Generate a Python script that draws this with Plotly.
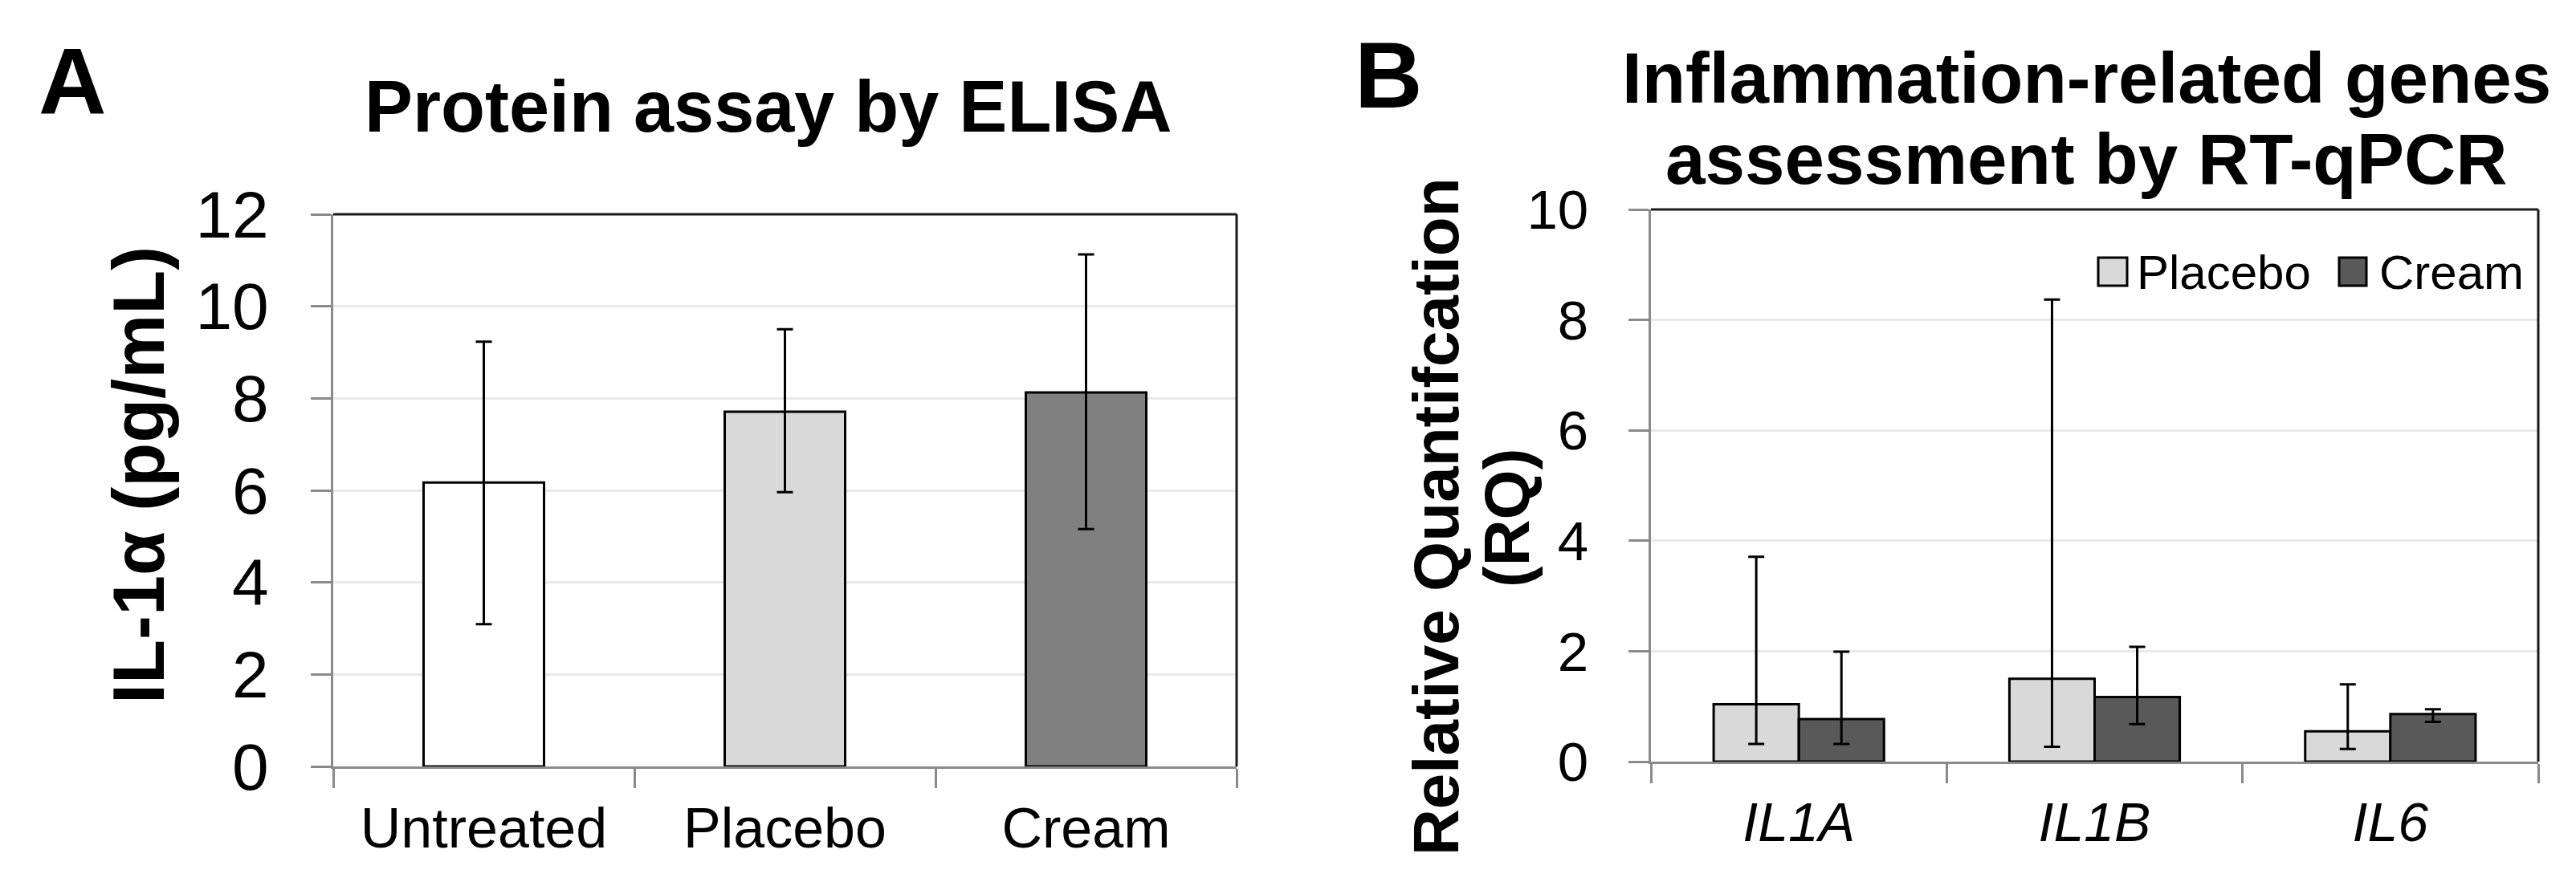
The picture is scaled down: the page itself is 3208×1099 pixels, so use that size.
import plotly.graph_objects as go

# ---------------- data ----------------
groups_a = ["Untreated", "Placebo", "Cream"]
means_a = [6.17, 7.71, 8.13]
err_hi_a = [9.23, 9.50, 11.13]
err_lo_a = [3.09, 5.96, 5.16]
colors_a = ["#ffffff", "#d9d9d9", "#808080"]

genes_b = ["IL1A", "IL1B", "IL6"]
series_b = ["Placebo", "Cream"]
placebo_b = [1.04, 1.50, 0.55]
placebo_hi_b = [3.71, 8.37, 1.40]
placebo_lo_b = [0.32, 0.27, 0.23]
cream_b = [0.77, 1.17, 0.86]
cream_hi_b = [1.99, 2.08, 0.95]
cream_lo_b = [0.32, 0.68, 0.72]
colors_b = ["#d9d9d9", "#595959"]

yticks_a = [0, 2, 4, 6, 8, 10, 12]
yticks_b = [0, 2, 4, 6, 8, 10]

FONT = "Liberation Sans, Arial, sans-serif"
W, H = 3208, 1099

def px(x):
    return x / W

def py(y):
    return 1 - y / H

fig = go.Figure()

fig.add_trace(go.Bar(
    x=groups_a, y=means_a, xaxis="x", yaxis="y", width=0.4,
    marker=dict(color=colors_a, line=dict(color="#000000", width=3)),
    error_y=dict(type="data", symmetric=False,
                 array=[h - m for h, m in zip(err_hi_a, means_a)],
                 arrayminus=[m - l for l, m in zip(err_lo_a, means_a)],
                 color="#000000", thickness=3, width=10),
    showlegend=False,
))

for name, vals, hi, lo, col in [
    (series_b[0], placebo_b, placebo_hi_b, placebo_lo_b, colors_b[0]),
    (series_b[1], cream_b, cream_hi_b, cream_lo_b, colors_b[1]),
]:
    fig.add_trace(go.Bar(
        name=name, x=genes_b, y=vals, xaxis="x2", yaxis="y2",
        marker=dict(color=col, line=dict(color="#000000", width=3)),
        error_y=dict(type="data", symmetric=False,
                     array=[h - v for h, v in zip(hi, vals)],
                     arrayminus=[v - l for l, v in zip(lo, vals)],
                     color="#000000", thickness=3, width=10),
        showlegend=False,
    ))

GRID = "#e9e9e9"
AXC = "#8a8a8a"

common_x = dict(showgrid=False, showline=True, linecolor=AXC, linewidth=3,
                ticks="outside", tickson="boundaries", ticklen=24, tickwidth=3,
                tickcolor=AXC, zeroline=False, ticklabelstandoff=14,
                automargin=False)
common_y = dict(showgrid=True, gridcolor=GRID, gridwidth=3, showline=True,
                linecolor=AXC, linewidth=3, ticks="outside", ticklen=25,
                tickwidth=3, tickcolor=AXC, zeroline=False, automargin=False)

fig.update_layout(
    width=W, height=H,
    margin=dict(l=0, r=0, t=0, b=0, pad=0, autoexpand=False),
    paper_bgcolor="#ffffff", plot_bgcolor="#ffffff",
    font=dict(family=FONT, color="#000000"),
    barmode="group", bargap=0.424, bargroupgap=0,
    showlegend=False,
    xaxis=dict(domain=[px(407), px(1532)], anchor="y",
               tickfont=dict(size=70, family=FONT), **common_x),
    yaxis=dict(domain=[py(947), py(259)], anchor="x", range=[0, 12],
               tickvals=yticks_a, tickfont=dict(size=82, family=FONT),
               ticklabelstandoff=36, **common_y),
    xaxis2=dict(domain=[px(2048), px(3153)], anchor="y2",
                tickvals=genes_b, ticktext=["<i>%s</i>" % g for g in genes_b],
                tickfont=dict(size=68, family=FONT), **common_x),
    yaxis2=dict(domain=[py(941), py(253)], anchor="x2", range=[0, 10],
                tickvals=yticks_b, tickfont=dict(size=69, family=FONT),
                ticklabelstandoff=36, **common_y),
)

# top/right black frame lines
for xr, yr in [("x domain", "y domain"), ("x2 domain", "y2 domain")]:
    fig.add_shape(type="line", xref=xr, yref=yr, x0=0, x1=1, y0=1, y1=1,
                  line=dict(color="#1a1a1a", width=3))
    fig.add_shape(type="line", xref=xr, yref=yr, x0=1, x1=1, y0=0, y1=1,
                  line=dict(color="#1a1a1a", width=3))

# legend for panel B (drawn manually to get large swatches)
legend_items = [(series_b[0], colors_b[0], 2605, 2641, 2651),
                (series_b[1], colors_b[1], 2905, 2939, 2953)]
for name, col, x0, x1, xt in legend_items:
    fig.add_shape(type="rect", xref="paper", yref="paper",
                  x0=px(x0), x1=px(x1), y0=py(348), y1=py(313),
                  fillcolor=col, line=dict(color="#000000", width=3))
    fig.add_annotation(text=name, xref="paper", yref="paper", x=px(xt), y=py(331),
                       xanchor="left", yanchor="middle", showarrow=False,
                       font=dict(size=60, family=FONT, color="#000000"))

# titles and panel letters
ann = [
    dict(text="<b>A</b>", x=px(82), y=py(94), size=117),
    dict(text="<b>B</b>", x=px(1721), y=py(85), size=117),
    dict(text="<b>Protein assay by ELISA</b>", x=px(948), y=py(125), size=90),
    dict(text="<b>Inflammation-related genes</b>", x=px(2590), y=py(89), size=89),
    dict(text="<b>assessment by RT-qPCR</b>", x=px(2590), y=py(190), size=89),
]
for a in ann:
    fig.add_annotation(text=a["text"], xref="paper", yref="paper", x=a["x"], y=a["y"],
                       xanchor="center", yanchor="middle", showarrow=False,
                       font=dict(size=a["size"], family=FONT, color="#000000"))

# y-axis titles (rotated)
yt = [
    dict(text="<b>IL-1α (pg/mL)</b>", x=px(165), y=py(584), size=90),
    dict(text="<b>Relative Quantifcation</b>", x=px(1780), y=py(636), size=80),
    dict(text="<b>(RQ)</b>", x=px(1868), y=py(638), size=80),
]
for a in yt:
    fig.add_annotation(text=a["text"], xref="paper", yref="paper", x=a["x"], y=a["y"],
                       xanchor="center", yanchor="middle", showarrow=False, textangle=-90,
                       font=dict(size=a["size"], family=FONT, color="#000000"))

fig.write_html("out.html")
